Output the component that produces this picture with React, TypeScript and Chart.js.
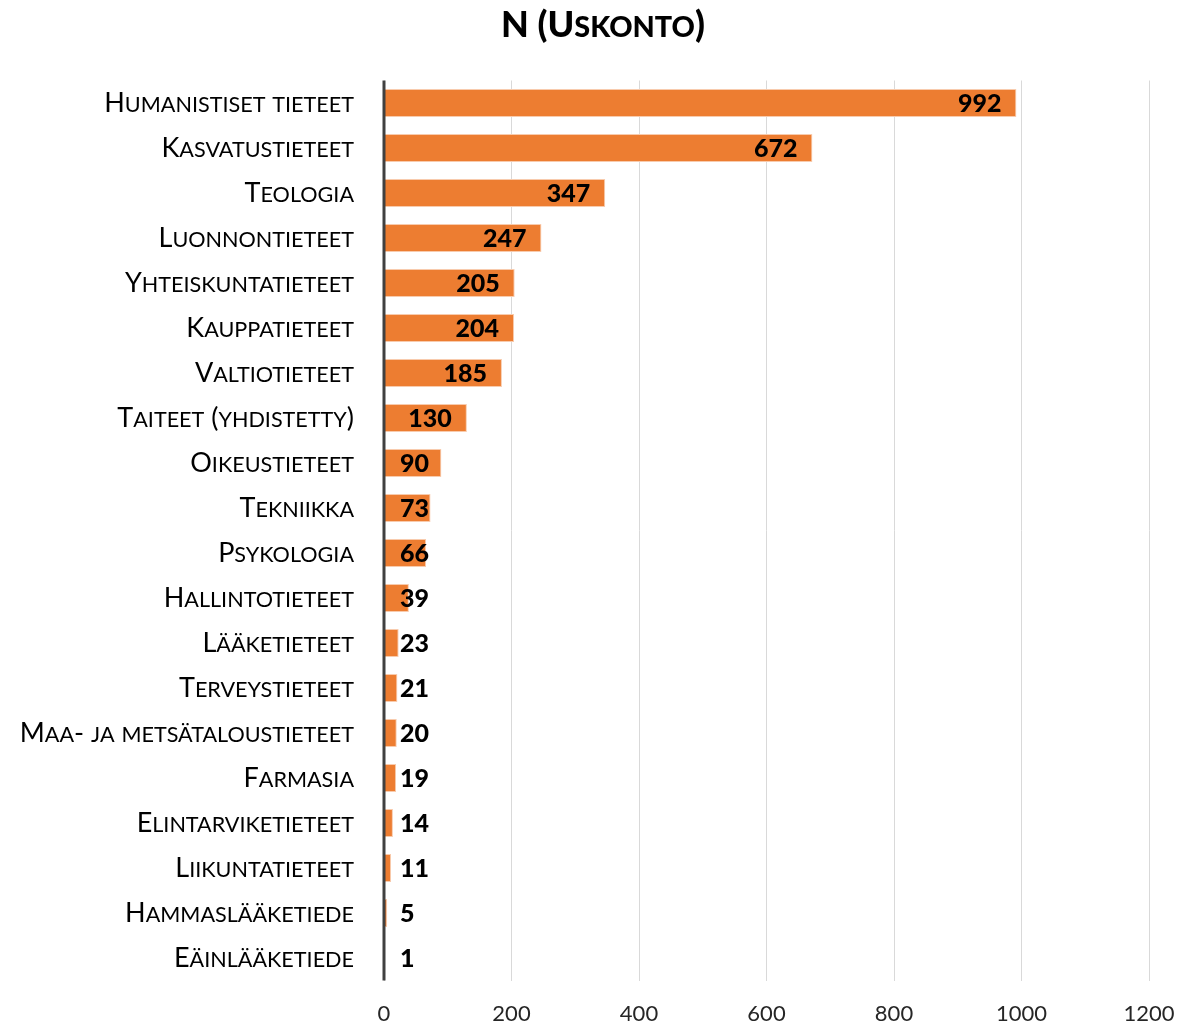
import React, { useEffect, useRef } from "react";
import { Chart, registerables } from "chart.js";

Chart.register(...registerables);

const TITLE = "N (Uskonto)";
const categories = [
  "Humanistiset tieteet",
  "Kasvatustieteet",
  "Teologia",
  "Luonnontieteet",
  "Yhteiskuntatieteet",
  "Kauppatieteet",
  "Valtiotieteet",
  "Taiteet (yhdistetty)",
  "Oikeustieteet",
  "Tekniikka",
  "Psykologia",
  "Hallintotieteet",
  "Lääketieteet",
  "Terveystieteet",
  "Maa- ja metsätaloustieteet",
  "Farmasia",
  "Elintarviketieteet",
  "Liikuntatieteet",
  "Hammaslääketiede",
  "Eäinlääketiede",
];
const values = [992, 672, 347, 247, 205, 204, 185, 130, 90, 73, 66, 39, 23, 21, 20, 19, 14, 11, 5, 1];
const xTicks = [0, 200, 400, 600, 800, 1000, 1200];

const FAMILY = "Lato, 'Open Sans', sans-serif";
const SC_RATIO = 0.8;

function smallCapsSegments(text: string) {
  const segs: { t: string; small: boolean }[] = [];
  for (const ch of text) {
    const isLower = ch !== ch.toUpperCase() && ch === ch.toLowerCase();
    const t = isLower ? ch.toUpperCase() : ch;
    const last = segs[segs.length - 1];
    if (last && last.small === isLower) last.t += t;
    else segs.push({ t, small: isLower });
  }
  return segs;
}

function drawSmallCaps(
  ctx: CanvasRenderingContext2D,
  text: string,
  x: number,
  baseline: number,
  size: number,
  weight: string,
  align: "right" | "center",
  color: string
) {
  const segs = smallCapsSegments(text);
  const fontFor = (small: boolean) => `${weight} ${small ? size * SC_RATIO : size}px ${FAMILY}`;
  let total = 0;
  const widths = segs.map((s) => {
    ctx.font = fontFor(s.small);
    const w = ctx.measureText(s.t).width;
    total += w;
    return w;
  });
  let cx = align === "right" ? x - total : x - total / 2;
  ctx.fillStyle = color;
  ctx.textAlign = "left";
  ctx.textBaseline = "alphabetic";
  segs.forEach((s, i) => {
    ctx.font = fontFor(s.small);
    ctx.fillText(s.t, cx, baseline);
    cx += widths[i];
  });
}

export default function App() {
  const ref = useRef<HTMLCanvasElement>(null);
  useEffect(() => {
    const canvas = ref.current!;
    const textPlugin = {
      id: "texts",
      afterDraw(chart: any) {
        const ctx = chart.ctx;
        ctx.save();
        drawSmallCaps(ctx, TITLE, 603, 37, 36, "900", "center", "#000");
        const ys = chart.scales.y;
        const base = chart.scales.x.getPixelForValue(0);
        categories.forEach((c, i) => {
          const y = ys.getPixelForValue(i);
          drawSmallCaps(ctx, c, base - 30, y + 9, 27, "normal", "right", "#000");
        });
        ctx.restore();
      },
      afterDatasetsDraw(chart: any) {
        const ctx = chart.ctx;
        const xs = chart.scales.x;
        const meta = chart.getDatasetMeta(0);
        const base = xs.getPixelForValue(0);
        ctx.save();
        ctx.strokeStyle = "#404040";
        ctx.lineWidth = 3;
        ctx.beginPath();
        ctx.moveTo(base, chart.chartArea.top);
        ctx.lineTo(base, chart.chartArea.bottom);
        ctx.stroke();
        ctx.font = `900 25px ${FAMILY}`;
        ctx.fillStyle = "#000";
        ctx.textAlign = "right";
        ctx.textBaseline = "middle";
        meta.data.forEach((bar: any, i: number) => {
          const txt = String(values[i]);
          const w = ctx.measureText(txt).width;
          const end = xs.getPixelForValue(values[i]);
          const x = Math.max(end - 15, base + 16 + w);
          ctx.fillText(txt, x, bar.y + 1);
        });
        ctx.restore();
      },
    };
    const chart = new Chart(canvas, {
      type: "bar",
      data: {
        labels: categories,
        datasets: [
          {
            data: values,
            backgroundColor: "#ED7D31",
            borderColor: "#F8CBAD",
            borderWidth: 1,
            borderSkipped: "start",
            barPercentage: 0.62,
            categoryPercentage: 1,
          },
        ],
      },
      options: {
        indexAxis: "y",
        responsive: false,
        animation: false,
        layout: { padding: { top: 80.5, right: 54, bottom: 0, left: 0 } },
        plugins: { legend: { display: false }, tooltip: { enabled: false }, title: { display: false } },
        scales: {
          x: {
            min: 0,
            max: 1200,
            afterBuildTicks(scale: any) {
              scale.ticks = xTicks.map((v) => ({ value: v }));
            },
            afterFit(scale: any) {
              scale.height = 43.5;
            },
            grid: { color: "#D9D9D9", lineWidth: 1, drawTicks: false },
            border: { display: false },
            ticks: {
              padding: 20,
              color: "#262626",
              font: { family: FAMILY, size: 22 },
              maxRotation: 0,
              callback: (v: any) => String(v),
            },
          },
          y: {
            afterFit(scale: any) {
              scale.width = 384;
            },
            grid: { display: false, drawTicks: false },
            border: { display: false },
            ticks: { display: false },
          },
        },
      },
      plugins: [textPlugin],
    });
    return () => chart.destroy();
  }, []);
  return (
    <div style={{ position: "absolute", left: 0, top: 0, width: 1203, height: 1024 }}>
      <canvas ref={ref} width={1203} height={1024} style={{ width: 1203, height: 1024 }} />
    </div>
  );
}
